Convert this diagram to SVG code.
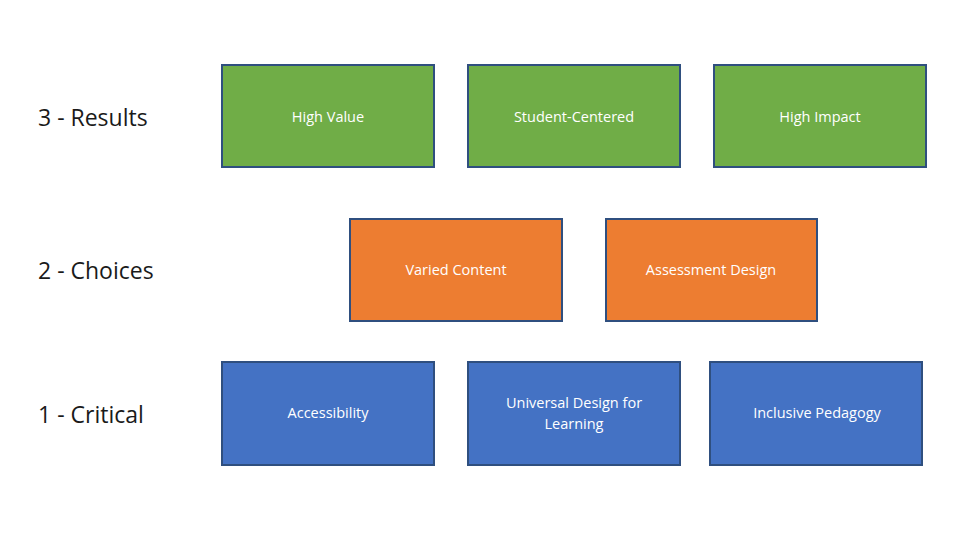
<svg xmlns="http://www.w3.org/2000/svg" width="960" height="540" viewBox="0 0 960 540">
<style>
.b{stroke:#2F4F7F;stroke-width:2}
.g{fill:#70AD47}.o{fill:#ED7D31}.u{fill:#4472C4}
.t{fill:#fff;font-family:"Open Sans","Liberation Sans",sans-serif;font-size:14.5px;text-anchor:middle}
.l{fill:#1a1a1a;font-family:"Open Sans","Liberation Sans",sans-serif;font-size:23px}
</style>
<rect width="960" height="540" fill="#fff"/>
<text class="l" x="38" y="126">3 - Results</text>
<text class="l" x="38" y="279">2 - Choices</text>
<text class="l" x="38" y="423">1 - Critical</text>
<g id="n1"><rect class="b g" x="222" y="65" width="212" height="102"/><text class="t" x="328" y="122">High Value</text></g>
<g id="n2"><rect class="b g" x="468" y="65" width="212" height="102"/><text class="t" x="574" y="122">Student-Centered</text></g>
<g id="n3"><rect class="b g" x="714" y="65" width="212" height="102"/><text class="t" x="820" y="122">High Impact</text></g>
<g id="n4"><rect class="b o" x="350" y="219" width="212" height="102"/><text class="t" x="456" y="275">Varied Content</text></g>
<g id="n5"><rect class="b o" x="606" y="219" width="211" height="102"/><text class="t" x="711" y="275">Assessment Design</text></g>
<g id="n6"><rect class="b u" x="222" y="362" width="212" height="103"/><text class="t" x="328" y="418">Accessibility</text></g>
<g id="n7"><rect class="b u" x="468" y="362" width="212" height="103"/><text class="t" x="574" y="408">Universal Design for</text><text class="t" x="574" y="429">Learning</text></g>
<g id="n8"><rect class="b u" x="710" y="362" width="212" height="103"/><text class="t" x="817" y="418">Inclusive Pedagogy</text></g>
<g id="connectors"/>
</svg>
